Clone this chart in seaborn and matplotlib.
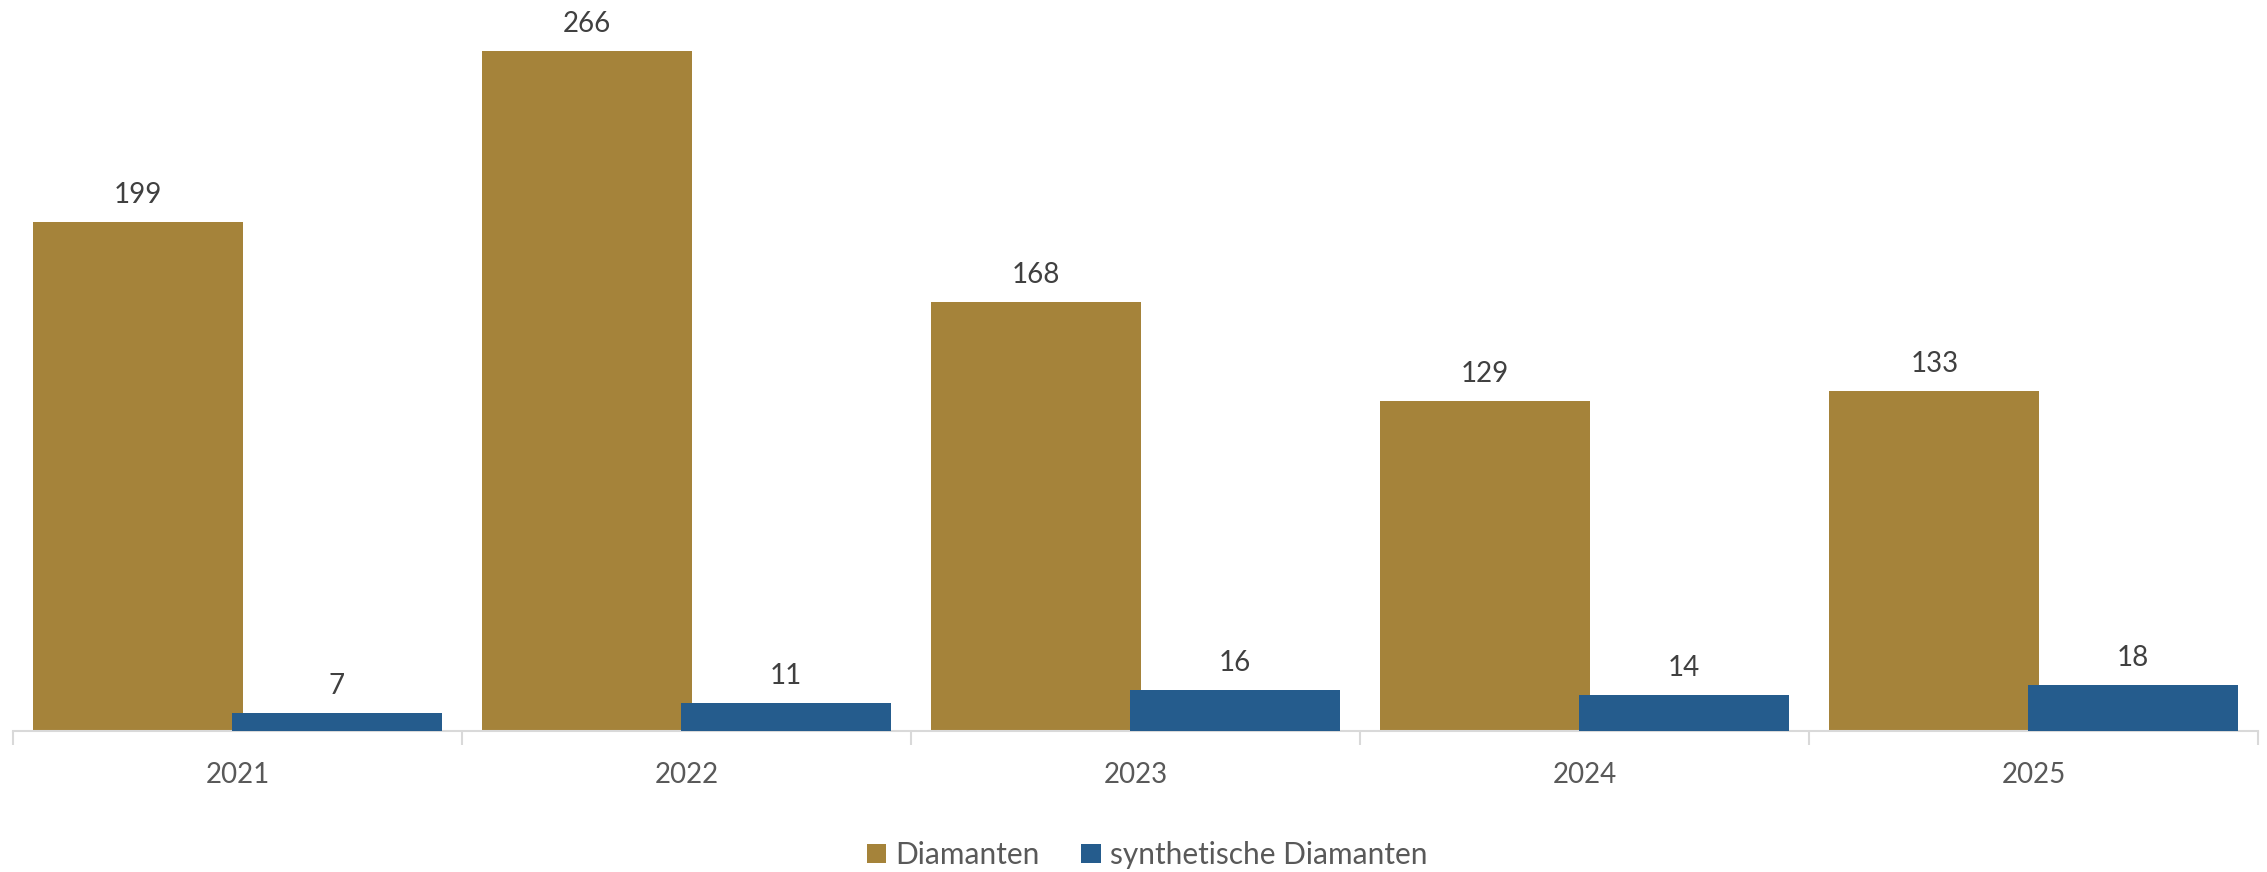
"""
Diamanten vs. synthetische Diamanten, gruppiertes Balkendiagramm.
"""

import matplotlib
from matplotlib import pyplot as plt
import seaborn as sns
import pandas as pd

matplotlib.use('Agg')

# Daten
jahre = ['2021', '2022', '2023', '2024', '2025']
diamanten = [199, 266, 168, 129, 133]
synthetisch = [7, 11, 16, 14, 18]
serien = ['Diamanten', 'synthetische Diamanten']
farben = ['#A5833A', '#255C8D']

df = pd.DataFrame({
    'jahr': jahre * 2,
    'wert': diamanten + synthetisch,
    'serie': [serien[0]] * len(jahre) + [serien[1]] * len(jahre),
})

sns.set_theme(style='white')
plt.rcParams['font.family'] = ['Lato', 'DejaVu Sans']

fig = plt.figure(figsize=(22.67, 8.72), dpi=100)
ax = fig.add_axes([13 / 2267, 141 / 872, 2245 / 2267, 731 / 872])

sns.barplot(data=df, x='jahr', y='wert', hue='serie', palette=farben,
            width=0.93, ax=ax, legend=True, saturation=1, linewidth=0)

# Balken leicht überlappen lassen (wie im Original)
breite = 0.467
for i, cont in enumerate(ax.containers):
    versatz = -0.221 if i == 0 else 0.221
    for k, p in enumerate(cont.patches):
        p.set_width(breite)
        p.set_x(k + versatz - breite / 2)
        p.set_zorder(2 + i)
        p.set_linewidth(0)
    ax.bar_label(cont, padding=10, fontsize=20, color='#404040')

ax.set_xlim(-0.5, 4.5)
ax.set_ylim(0, 286)
ax.set_xlabel('')
ax.set_ylabel('')
ax.set_yticks([])

# Achsen
for s in ['top', 'right', 'left']:
    ax.spines[s].set_visible(False)
ax.spines['bottom'].set_color('#D9D9D9')
ax.spines['bottom'].set_linewidth(1.5)
ax.set_xticks(range(len(jahre)))
ax.set_xticklabels(jahre, fontsize=20, color='#595959')
ax.set_xticks([x - 0.5 for x in range(len(jahre) + 1)], minor=True)
ax.tick_params(axis='x', which='major', length=0, pad=22)
ax.tick_params(axis='x', which='minor', length=10, width=1.5,
               color='#D9D9D9', direction='out', bottom=True)

# Legende unten
handles, labels = ax.get_legend_handles_labels()
ax.legend_.remove()
fig.legend(handles, labels, loc='center', bbox_to_anchor=(1147 / 2267, 17 / 872),
           ncol=2, frameon=False, fontsize=21.5, labelcolor='#595959',
           handlelength=0.65, handleheight=0.65, handletextpad=0.3,
           columnspacing=1.4)

fig.savefig('out.png', dpi=100)
plt.close(fig)
